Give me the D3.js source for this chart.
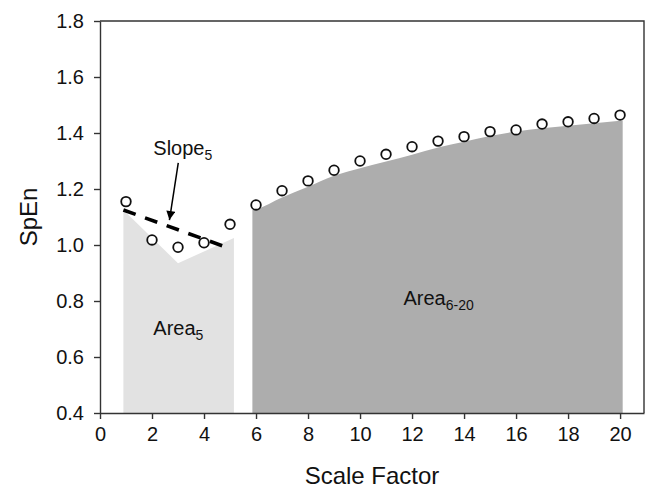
<!DOCTYPE html>
<html>
<head>
<meta charset="utf-8">
<script src="https://cdn.jsdelivr.net/npm/d3@7"></script>
<style>
  body { margin: 0; background: #fff; }
  text { font-family: "Liberation Sans", Arial, sans-serif; fill: #111; }
</style>
</head>
<body>
<svg width="646" height="490"></svg>
<script>
// scale factors and measured SpEn (open circles)
const scaleFactors = [1, 2, 3, 4, 5, 6, 7, 8, 9, 10, 11, 12, 13, 14, 15, 16, 17, 18, 19, 20];
const spen = [1.155, 1.018, 0.992, 1.008, 1.074, 1.143, 1.194, 1.229, 1.267, 1.300,
  1.324, 1.351, 1.371, 1.387, 1.405, 1.411, 1.432, 1.440, 1.452, 1.464];

// light grey area under scales 1-5
const area5X = [0.9, 3.0, 5.15];
const area5Y = [1.125, 0.935, 1.025];

// dark grey area under fitted curve, scales 6-20
const area620X = [5.86, 6, 7, 8, 9, 10, 11, 12, 13, 14, 15, 16, 17, 18, 19, 20, 20.1];
const area620Y = [1.125, 1.128, 1.170, 1.208, 1.247, 1.274, 1.298, 1.322, 1.348, 1.369,
  1.389, 1.405, 1.417, 1.426, 1.435, 1.444, 1.445];

// dashed slope line over scales 1-5
const slopeX = [0.9, 4.8];
const slopeY = [1.125, 0.994];

const xTicks = [0, 2, 4, 6, 8, 10, 12, 14, 16, 18, 20];
const yTicks = [0.4, 0.6, 0.8, 1.0, 1.2, 1.4, 1.6, 1.8];

const svg = d3.select("svg");
const mLeft = 100, mRight = 644, mTop = 21, mBottom = 413;

const x = d3.scaleLinear().domain([0, 20.92]).range([mLeft, mRight]);
const y = d3.scaleLinear().domain([0.4, 1.8]).range([mBottom, mTop]);

function areaPath(xs, ys, curve) {
  return d3.area()
    .x((d, i) => x(xs[i]))
    .y0(y(0.4))
    .y1((d, i) => y(ys[i]))
    .curve(curve)(ys);
}

svg.append("path").attr("d", areaPath(area5X, area5Y, d3.curveLinear)).attr("fill", "#e2e2e2");
svg.append("path").attr("d", areaPath(area620X, area620Y, d3.curveMonotoneX)).attr("fill", "#adadad");

// dashed slope line
svg.append("line")
  .attr("x1", x(slopeX[0])).attr("y1", y(slopeY[0]))
  .attr("x2", x(slopeX[1])).attr("y2", y(slopeY[1]))
  .attr("stroke", "#000").attr("stroke-width", 3.6)
  .attr("stroke-dasharray", "13,10");

// arrow from label to slope line
svg.append("defs").append("marker")
  .attr("id", "arrow").attr("viewBox", "0 0 10 10")
  .attr("refX", 10).attr("refY", 5)
  .attr("markerWidth", 10).attr("markerHeight", 9)
  .attr("markerUnits", "userSpaceOnUse")
  .attr("orient", "auto")
  .append("path").attr("d", "M0,0L10,5L0,10Z").attr("fill", "#000");

svg.append("line")
  .attr("x1", x(3.01)).attr("y1", y(1.293))
  .attr("x2", x(2.67)).attr("y2", y(1.089))
  .attr("stroke", "#000").attr("stroke-width", 1.5)
  .attr("marker-end", "url(#arrow)");

// points
svg.append("g").selectAll("circle")
  .data(scaleFactors)
  .join("circle")
  .attr("cx", d => x(d))
  .attr("cy", (d, i) => y(spen[i]))
  .attr("r", 4.8)
  .attr("fill", "#fff")
  .attr("stroke", "#111")
  .attr("stroke-width", 1.8);

// axes
const xAxis = svg.append("g")
  .attr("transform", `translate(0,${mBottom})`)
  .call(d3.axisBottom(x).tickValues(xTicks).tickSize(6).tickSizeOuter(0).tickPadding(8));
const yAxis = svg.append("g")
  .attr("transform", `translate(${mLeft},0)`)
  .call(d3.axisLeft(y).tickValues(yTicks).tickSize(6).tickSizeOuter(0).tickPadding(10)
    .tickFormat(d3.format(".1f")));

[xAxis, yAxis].forEach(g => {
  g.select(".domain").attr("stroke", "#333").attr("stroke-width", 1.4);
  g.selectAll(".tick line").attr("stroke", "#333").attr("stroke-width", 1.4);
  g.selectAll(".tick text").attr("font-size", 20).attr("fill", "#111")
    .attr("font-family", "'Liberation Sans', Arial, sans-serif");
});

// top and right frame
svg.append("path")
  .attr("d", `M${mLeft},${mTop}H${mRight}V${mBottom}`)
  .attr("fill", "none").attr("stroke", "#333").attr("stroke-width", 1.4);

// axis titles
svg.append("text")
  .attr("x", (mLeft + mRight) / 2).attr("y", 484)
  .attr("text-anchor", "middle").attr("font-size", 24)
  .text("Scale Factor");
svg.append("text")
  .attr("transform", `translate(37,${(mTop + mBottom) / 2}) rotate(-90)`)
  .attr("text-anchor", "middle").attr("font-size", 24)
  .text("SpEn");

// annotations with subscripts
function label(xv, yv, main, sub) {
  const t = svg.append("text")
    .attr("x", x(xv)).attr("y", y(yv))
    .attr("font-size", 20);
  t.append("tspan").text(main);
  t.append("tspan").attr("font-size", 14).attr("dy", 5).text(sub);
}
label(2.05, 1.321, "Slope", "5");
label(2.05, 0.679, "Area", "5");
label(11.67, 0.786, "Area", "6-20");
</script>
</body>
</html>
